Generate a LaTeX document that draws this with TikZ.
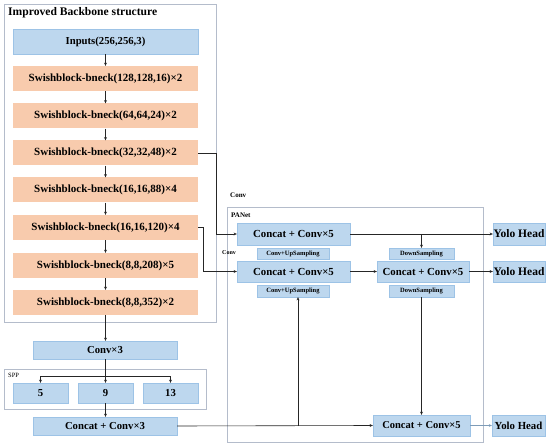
\documentclass[tikz,border=0pt]{standalone}
\usepackage{fontspec}
\setmainfont{Liberation Serif}
\usetikzlibrary{arrows.meta}
\definecolor{bfill}{HTML}{BDD7EE}
\definecolor{bdraw}{HTML}{9DC3E6}
\definecolor{ofill}{HTML}{F8CBAD}
\definecolor{frm}{HTML}{B4BCCB}
\tikzset{
  arr/.style={draw=black!85, line width=0.6pt, -{Stealth[length=3.2pt,width=3pt]}},
  ln/.style={draw=black!85, line width=0.6pt},
  bb/.style={fill=bfill, draw=bdraw, line width=0.4pt, inner sep=0pt, font=\bfseries\fontsize{10.7}{11}\selectfont},
  ob/.style={fill=ofill, draw=none, inner sep=0pt, minimum width=185pt, minimum height=25pt, font=\bfseries\fontsize{11}{12}\selectfont},
  big/.style={bb, font=\bfseries\fontsize{10.8}{12}\selectfont},
  small/.style={bb, font=\bfseries\fontsize{6.5}{7}\selectfont},
  frame/.style={draw=frm, line width=0.6pt},
  lab/.style={inner sep=0pt, anchor=west, font=\bfseries\fontsize{7}{8}\selectfont}
}
\begin{document}
\begin{tikzpicture}[x=1pt,y=-1pt]
\useasboundingbox (0,0) rectangle (550,444);
% frames
\draw[frame] (4,4) rectangle (216,322);
\draw[frame] (4,369) rectangle (206,409);
\draw[frame] (227,207) rectangle (483,442);
\node[lab, font=\bfseries\fontsize{11.6}{12}\selectfont] (title) at (8,13) {Improved Backbone structure};
\node[lab, font=\fontsize{6.5}{7}\selectfont] (spp) at (8,375) {SPP};
\node[lab] (convl1) at (230,195) {Conv};
\node[lab] (panet) at (231,215) {PANet};
\node[lab, font=\bfseries\fontsize{6}{7}\selectfont] (convl2) at (222,253) {Conv};
% backbone
\node[bb, minimum width=185pt, minimum height=25pt] (in) at (105.5,41.5) {Inputs(256,256,3)};
\node[ob] (s1) at (105.5,78.5) {Swishblock-bneck(128,128,16)×2};
\node[ob] (s2) at (105.5,116) {Swishblock-bneck(64,64,24)×2};
\node[ob] (s3) at (105.5,153) {Swishblock-bneck(32,32,48)×2};
\node[ob] (s4) at (105.5,190) {Swishblock-bneck(16,16,88)×4};
\node[ob] (s5) at (105.5,227.5) {Swishblock-bneck(16,16,120)×4};
\node[ob] (s6) at (105.5,265.5) {Swishblock-bneck(8,8,208)×5};
\node[ob] (s7) at (105.5,302.5) {Swishblock-bneck(8,8,352)×2};
% SPP
\node[bb, minimum width=144pt, minimum height=18pt] (conv3) at (105,350) {Conv×3};
\node[bb, minimum width=55pt, minimum height=20pt] (p5) at (40.5,393) {5};
\node[bb, minimum width=55pt, minimum height=20pt] (p9) at (105.5,393) {9};
\node[bb, minimum width=55pt, minimum height=20pt] (p13) at (170.5,393) {13};
\node[bb, minimum width=144pt, minimum height=18pt] (cc3) at (105,426) {Concat + Conv×3};
% PANet
\node[big, minimum width=113pt, minimum height=22pt] (c1) at (293.5,234) {Concat + Conv×5};
\node[small, minimum width=72pt, minimum height=11pt] (u1) at (293,253.5) {Conv+UpSampling};
\node[big, minimum width=113pt, minimum height=21pt] (c2) at (293.5,271.5) {Concat + Conv×5};
\node[small, minimum width=72pt, minimum height=12pt] (u2) at (293,291) {Conv+UpSampling};
\node[big, minimum width=92pt, minimum height=21pt] (c3) at (423,271.5) {Concat + Conv×5};
\node[small, minimum width=65pt, minimum height=11pt] (d1) at (421.5,253.5) {DownSampling};
\node[small, minimum width=65pt, minimum height=12pt] (d2) at (421.5,291) {DownSampling};
\node[bb, font=\bfseries\fontsize{10.5}{11}\selectfont, minimum width=97pt, minimum height=21pt] (f) at (421.5,425.5) {Concat + Conv×5};
\node[bb, font=\bfseries\fontsize{11.5}{12}\selectfont, minimum width=52pt, minimum height=22pt] (y1) at (519,234) {Yolo Head};
\node[bb, font=\bfseries\fontsize{11.5}{12}\selectfont, minimum width=52pt, minimum height=21pt] (y2) at (519,271.5) {Yolo Head};
\node[bb, font=\bfseries\fontsize{10.8}{11}\selectfont, minimum width=53pt, minimum height=21pt] (y3) at (518.5,425.5) {Yolo Head};
% backbone arrows
\draw[arr] (in) -- (s1);
\draw[arr] (s1) -- (s2);
\draw[arr] (s2) -- (s3);
\draw[arr] (s3) -- (s4);
\draw[arr] (s4) -- (s5);
\draw[arr] (s5) -- (s6);
\draw[arr] (s6) -- (s7);
\draw[arr] (s7) -- (conv3.north -| s7.south);
% SPP arrows
\coordinate (br) at (105.5,376);
\draw[arr] (conv3.south -| br) -- (p9);
\draw[arr] (br) -| (p5.north);
\draw[arr] (br) -| (p13.north);
\draw[arr] (p9) -- (cc3.north -| p9.south);
% lateral connections
\coordinate (k1) at (216,0);
\coordinate (k2) at (203,0);
\draw[arr] (s3.east) -- (s3.east -| k1) |- (c1.west);
\draw[arr] (s5.east) -- (s5.east -| k2) |- (c2.west);
% PANet arrows
\draw[arr] (c1) -- (y1);
\draw[arr] (c1.east -| d1.north) -- (d1.north);
\draw[arr] (c2) -- (c3);
\draw[arr] (c3) -- (y2);
\draw[arr] (cc3.east) -- (f.west);
\coordinate (t) at (298,426);
\draw[arr] (t) -- (t |- u2.south);
\draw[arr] (d2.south) -- (f.north);
\draw[draw=bdraw!80!black, line width=0.5pt, -{Stealth[length=3pt,width=2.8pt]}] (f) -- (y3);
\end{tikzpicture}
\end{document}
